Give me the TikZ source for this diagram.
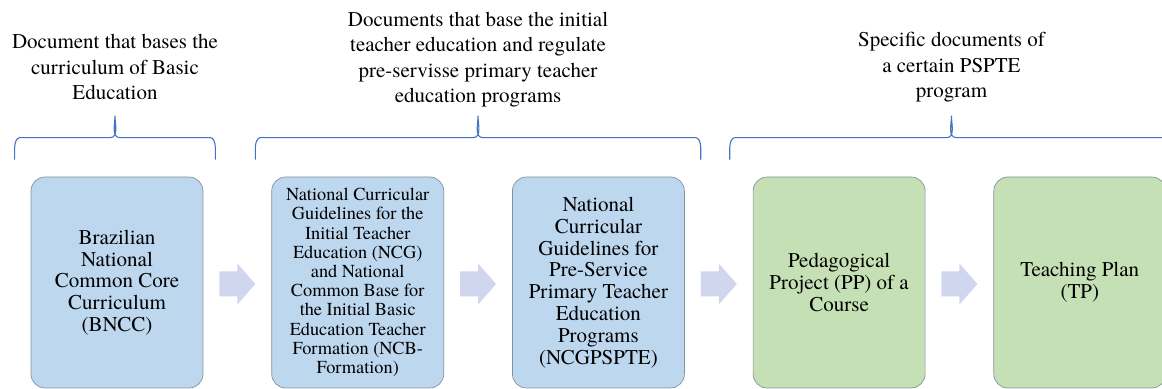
\documentclass[tikz,border=0pt]{standalone}
\usepackage{fontspec}
\setmainfont{TeX Gyre Termes}
\usepackage{tikz}
\usetikzlibrary{positioning,calc}

\definecolor{boxblue}{RGB}{189,215,238}
\definecolor{boxgreen}{RGB}{197,224,180}
\definecolor{boxedge}{RGB}{132,146,158}
\definecolor{arrowfill}{RGB}{208,214,238}
\definecolor{bracecol}{RGB}{68,114,196}

\begin{document}
\begin{tikzpicture}[x=.5pt,y=.5pt,node distance=34pt,
	doc box/.style={draw=boxedge, line width=.35pt, rounded corners=7pt, minimum width=86pt, minimum height=105.5pt, inner sep=0pt, align=center, font=\fontsize{10.5}{10.9}\selectfont},
	blue box/.style={doc box, fill=boxblue},
	green box/.style={doc box, fill=boxgreen},
	head text/.style={align=center, font=\fontsize{10.5}{12.75}\selectfont},
	brace line/.style={draw=bracecol, line width=.55pt},
	step arrow/.style={fill=arrowfill}]
	\useasboundingbox (0,0) rectangle (1162,-389);
	
	% the five documents
	\node[blue box] (bncc) at (117,-282.5) {Brazilian\\National\\Common Core\\Curriculum\\(BNCC)};
	\node[blue box, right=of bncc, font=\fontsize{9.15}{9.6}\selectfont] (ncg) {National Curricular\\Guidelines for the\\Initial Teacher\\Education (NCG)\\and National\\Common Base for\\the Initial Basic\\Education Teacher\\Formation (NCB-\\Formation)};
	\node[blue box, right=of ncg] (ncgp) {National\\Curricular\\Guidelines for\\Pre-Service\\Primary Teacher\\Education\\Programs\\(NCGPSPTE)};
	\node[green box, right=of ncgp] (pp) {Pedagogical\\Project (PP) of a\\Course};
	\node[green box, right=of pp] (tp) {Teaching Plan\\(TP)};
	
	% block arrows
	\fill[step arrow] ($(bncc.east)!.5!(ncg.west)+(-18,11)$) -- ++(18,0) -- ++(0,8) -- ++(18,-20.5) -- ++(-18,-20.5) -- ++(0,8) -- ++(-18,0) -- cycle;
	\fill[step arrow] ($(ncg.east)!.5!(ncgp.west)+(-18,11)$) -- ++(18,0) -- ++(0,8) -- ++(18,-20.5) -- ++(-18,-20.5) -- ++(0,8) -- ++(-18,0) -- cycle;
	\fill[step arrow] ($(ncgp.east)!.5!(pp.west)+(-18,11)$) -- ++(18,0) -- ++(0,8) -- ++(18,-20.5) -- ++(-18,-20.5) -- ++(0,8) -- ++(-18,0) -- cycle;
	\fill[step arrow] ($(pp.east)!.5!(tp.west)+(-18,11)$) -- ++(18,0) -- ++(0,8) -- ++(18,-20.5) -- ++(-18,-20.5) -- ++(0,8) -- ++(-18,0) -- cycle;
	
	% braces
	\coordinate (b1l) at ($(bncc.north west)+(-16,17)$);
	\coordinate (b1r) at ($(bncc.north east)+(12,17)$);
	\coordinate (b1m) at ($(b1l)!.5!(b1r)+(0,44)$);
	\coordinate (b2l) at ($(ncg.north west)+(-16,17)$);
	\coordinate (b2r) at ($(ncgp.north east)+(16,17)$);
	\coordinate (b2m) at ($(b2l)!.5!(b2r)+(0,44)$);
	\coordinate (b3l) at ($(pp.north west)+(-23,17)$);
	\coordinate (b3r) at ($(tp.north east)+(7,17)$);
	\coordinate (b3m) at ($(b3l)!.5!(b3r)+(0,44)$);
	
	\draw[brace line] (b1l) -- ++(0,12) arc[start angle=180,end angle=90,x radius=5,y radius=10] -- ($(b1m)+(-5,-22)$) to[out=0,in=-90] (b1m) to[out=-90,in=180] ($(b1m)+(5,-22)$) -- ($(b1r)+(-5,22)$) arc[start angle=90,end angle=0,x radius=5,y radius=10] -- (b1r);
	\draw[brace line] (b2l) -- ++(0,12) arc[start angle=180,end angle=90,x radius=5,y radius=10] -- ($(b2m)+(-5,-22)$) to[out=0,in=-90] (b2m) to[out=-90,in=180] ($(b2m)+(5,-22)$) -- ($(b2r)+(-5,22)$) arc[start angle=90,end angle=0,x radius=5,y radius=10] -- (b2r);
	\draw[brace line] (b3l) -- ++(0,12) arc[start angle=180,end angle=90,x radius=5,y radius=10] -- ($(b3m)+(-5,-22)$) to[out=0,in=-90] (b3m) to[out=-90,in=180] ($(b3m)+(5,-22)$) -- ($(b3r)+(-5,22)$) arc[start angle=90,end angle=0,x radius=5,y radius=10] -- (b3r);
	
	% headings
	\node[head text] (headbasic) at ($(b1m)+(0,48.5)$) {Document that bases the\\curriculum of Basic\\Education};
	\node[head text] (headinitial) at ($(b2m)+(0,56)$) {Documents that base the initial\\teacher education and regulate\\pre-servisse primary teacher\\education programs};
	\node[head text] (headpspte) at ($(b3m)+(0,48.5)$) {Specific documents of\\a certain PSPTE\\program};
	
\end{tikzpicture}
\end{document}
